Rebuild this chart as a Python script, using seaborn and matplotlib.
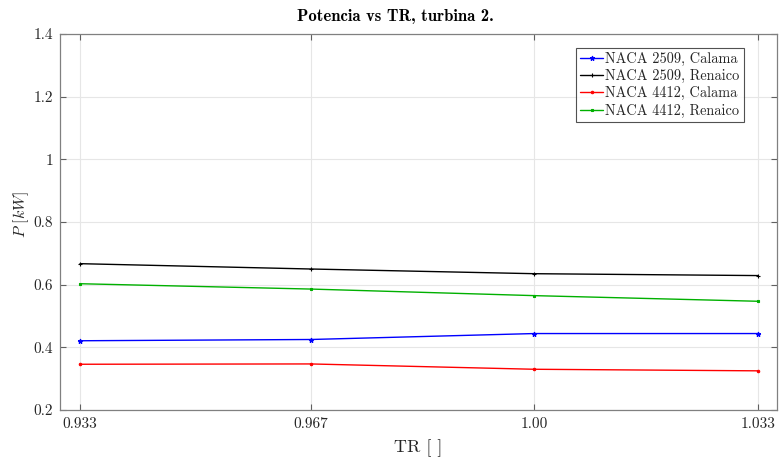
import numpy as np
import pandas as pd
import matplotlib
matplotlib.use("Agg")
import matplotlib.pyplot as plt
import seaborn as sns

# Tip-speed ratio positions and their printed tick labels
tr = [0.9324, 0.9667, 1.0, 1.0333]
tr_labels = ["0.933", "0.967", "1.00", "1.033"]

# Power output [kW] per profile / site
p_2509_calama = [0.421, 0.425, 0.444, 0.444]
p_2509_renaico = [0.667, 0.650, 0.635, 0.629]
p_4412_calama = [0.346, 0.347, 0.330, 0.325]
p_4412_renaico = [0.603, 0.586, 0.565, 0.547]

series_names = ["NACA 2509, Calama", "NACA 2509, Renaico",
                "NACA 4412, Calama", "NACA 4412, Renaico"]
series_values = [p_2509_calama, p_2509_renaico, p_4412_calama, p_4412_renaico]
colors = ["#0000ff", "#000000", "#ff0000", "#00b000"]
markers = ["*", "+", ".", "s"]
msizes = [3.5, 3.5, 3.5, 2.0]

y_ticks = [0.2, 0.4, 0.6, 0.8, 1.0, 1.2, 1.4]
y_labels = ["0.2", "0.4", "0.6", "0.8", "1", "1.2", "1.4"]

sns.set_style("white")
plt.rcParams["font.family"] = ["cmr10"]
plt.rcParams["mathtext.fontset"] = "cm"
plt.rcParams["axes.formatter.use_mathtext"] = True

df = pd.DataFrame({
    "TR": np.tile(tr, len(series_names)),
    "P": np.concatenate(series_values),
    "serie": np.repeat(series_names, len(tr)),
})

fig = plt.figure(figsize=(7.82, 4.59), dpi=100)
ax = fig.add_axes([60 / 782, 1 - 410 / 459, (777 - 60) / 782, (410 - 34) / 459])

for name, c, m, ms in zip(series_names, colors, markers, msizes):
    sub = df[df["serie"] == name]
    sns.lineplot(data=sub, x="TR", y="P", ax=ax, color=c, marker=m,
                 markersize=ms, markeredgecolor=c, markerfacecolor=c,
                 markeredgewidth=0.8, linewidth=1.0, label=name, sort=False)

ax.set_xlim(0.92942, 1.03612)
ax.set_ylim(0.2, 1.4)
ax.set_xticks(tr)
ax.set_xticklabels(tr_labels)
ax.set_yticks(y_ticks)
ax.set_yticklabels(y_labels)
ax.grid(True, color="#e6e6e6", linewidth=0.8)
ax.set_axisbelow(True)
for s in ax.spines.values():
    s.set_color("#808080")
    s.set_linewidth(0.9)
    s.set_visible(True)
ax.tick_params(direction="in", length=4, width=0.8, color="#606060",
               labelsize=11, labelcolor="#262626", top=True, right=True,
               bottom=True, left=True, pad=5)

ax.set_xlabel("TR [ ]", fontsize=13, color="#262626", labelpad=6)
ax.set_ylabel(r"$P\ [kW]$", fontsize=11.5, color="#262626")
ax.yaxis.set_label_coords(-0.040, 0.52)
fig.text(395 / 782, 1 - 17 / 459, "Potencia vs TR, turbina 2.", fontsize=12,
         family="cmb10", color="#000000", ha="center", va="center")

leg = ax.legend(loc="upper right", bbox_to_anchor=(0.96, 0.975), fontsize=10.3,
                frameon=True, fancybox=False, borderpad=0.3, labelspacing=0.22,
                handlelength=1.6, handletextpad=0.15, borderaxespad=0.3)
leg.get_frame().set_edgecolor("#262626")
leg.get_frame().set_linewidth(0.8)

fig.savefig("out.png", dpi=100)
